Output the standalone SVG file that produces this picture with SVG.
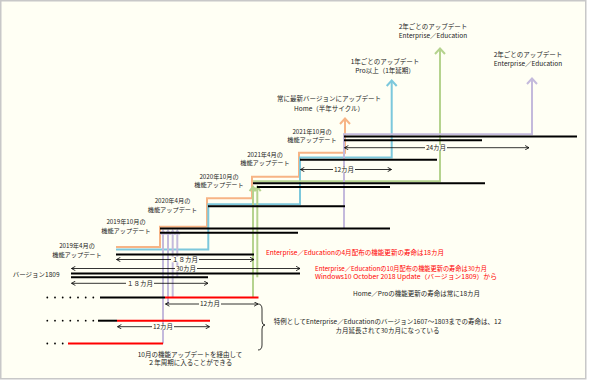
<svg xmlns="http://www.w3.org/2000/svg" width="589" height="381" viewBox="0 0 589 381">
<defs>
<marker id="ah" viewBox="0 0 5 5" markerWidth="5" markerHeight="5" refX="4.2" refY="2.5" orient="auto-start-reverse" markerUnits="userSpaceOnUse">
<path d="M0.3,0.3 L4.2,2.5 L0.3,4.7" fill="none" stroke="#000" stroke-width="0.8"/>
</marker>
<style>
text{font-family:"Noto Sans CJK JP","Noto Sans",sans-serif;font-size:6.5px;fill:#222;}
.m{text-anchor:middle;}
.rl{font-size:6.2px;}
.red{fill:#ff0000;font-size:6.4px;}
.bk{stroke:#000;stroke-width:2;fill:none;}
.rd{stroke:#ff0000;stroke-width:2;fill:none;}
.or{stroke:#f7b485;stroke-width:2;fill:none;}
.bl{stroke:#7cc8dc;stroke-width:2;fill:none;}
.gr{stroke:#b5d38e;stroke-width:2;fill:none;}
.pu{stroke:#c4badc;stroke-width:2;fill:none;}
.dim{stroke:#000;stroke-width:0.8;fill:none;marker-start:url(#ah);marker-end:url(#ah);}
.bg{fill:#fffff4;}
</style>
</defs>
<rect width="589" height="381" fill="#ffffff"/>
<rect x="0.75" y="0.75" width="585" height="378" fill="#fffff4" stroke="#c8c8c8" stroke-width="1.5"/>

<g id="connectors">
<!-- orange (Home) -->
<path class="or" d="M116,247 H160 V226.7 H207 V198.3 H252 V176.7 H299 V152.7 H345 V119"/>
<polyline class="or" points="340,124 345,118.5 350,124"/>
<!-- blue (Pro) -->
<path class="bl" d="M116,249.6 H208.3 V204.3 H300 V157.6 H391.7 V81"/>
<polyline class="bl" points="386.7,86 391.7,80.5 396.7,86"/>
<!-- green -->
<path class="gr" d="M253,181.2 H440 V49"/>
<polyline class="gr" points="435,54 440,48.5 445,54"/>
<line class="gr" x1="253" y1="187" x2="253" y2="297.5"/>
<line class="gr" x1="257.3" y1="187" x2="257.3" y2="277.3"/>
<polyline class="gr" points="249.6,191.2 253,186.6 256.4,191.2"/>
<polyline class="gr" points="253.9,191.2 257.3,186.6 260.7,191.2"/>
<!-- purple -->
<path class="pu" d="M344,228.5 V134.3 H532 V79"/>
<polyline class="pu" points="527,84 532,78.5 537,84"/>
<line class="pu" x1="163" y1="231" x2="163" y2="343.5"/>
<line class="pu" x1="168" y1="231" x2="168" y2="304"/>
<line class="pu" x1="172.7" y1="231" x2="172.7" y2="297.5"/>
<line class="pu" x1="177.3" y1="231" x2="177.3" y2="277.3"/>
<polyline class="pu" points="160.6,234.5 163,230.8 165.4,234.5"/>
<polyline class="pu" points="165.6,234.5 168,230.8 170.4,234.5"/>
<polyline class="pu" points="170.3,234.5 172.7,230.8 175.1,234.5"/>
<polyline class="pu" points="174.9,234.5 177.3,230.8 179.7,234.5"/>

<!-- support period bars -->
<line class="bk" x1="344" y1="136.6" x2="577" y2="136.6"/>
<line class="bk" x1="344" y1="140.2" x2="482" y2="140.2"/>
<line class="bk" x1="300" y1="159.8" x2="437" y2="159.8"/>
<line class="bk" x1="253" y1="183.3" x2="485" y2="183.3"/>
<line class="bk" x1="257" y1="187" x2="390" y2="187"/>
<line class="bk" x1="208" y1="206.3" x2="345" y2="206.3"/>
<line class="bk" x1="160" y1="228.5" x2="390" y2="228.5"/>
<line class="bk" x1="160" y1="232.8" x2="298" y2="232.8"/>
<line class="bk" x1="116" y1="254.5" x2="254" y2="254.5"/>
<line class="bk" x1="71" y1="273.5" x2="300" y2="273.5"/>
<line class="bk" x1="71" y1="277.3" x2="208" y2="277.3"/>
<line class="bk" x1="100" y1="297.5" x2="165" y2="297.5"/>
<line class="rd" x1="165" y1="297.5" x2="258.5" y2="297.5"/>
<line class="bk" x1="98" y1="320.7" x2="117" y2="320.7"/>
<line class="rd" x1="117" y1="320.7" x2="210" y2="320.7"/>
<line class="rd" x1="68" y1="343.5" x2="163" y2="343.5"/>

<!-- dots -->
<g fill="#000">
<circle cx="47.3" cy="297.5" r="0.9"/><circle cx="55" cy="297.5" r="0.9"/><circle cx="62.7" cy="297.5" r="0.9"/><circle cx="70.3" cy="297.5" r="0.9"/><circle cx="78" cy="297.5" r="0.9"/><circle cx="85.7" cy="297.5" r="0.9"/><circle cx="93.3" cy="297.5" r="0.9"/>
<circle cx="47.3" cy="320.7" r="0.9"/><circle cx="55" cy="320.7" r="0.9"/><circle cx="62.7" cy="320.7" r="0.9"/><circle cx="70.3" cy="320.7" r="0.9"/><circle cx="78" cy="320.7" r="0.9"/><circle cx="85.7" cy="320.7" r="0.9"/><circle cx="93.3" cy="320.7" r="0.9"/>
<circle cx="47.3" cy="343.5" r="0.9"/><circle cx="55" cy="343.5" r="0.9"/><circle cx="62.7" cy="343.5" r="0.9"/>
</g>

<!-- dimension arrows -->
<line class="dim" x1="344.5" y1="147.7" x2="529" y2="147.7"/>
<line class="dim" x1="300.5" y1="169.5" x2="391.5" y2="169.5"/>
<line class="dim" x1="116.5" y1="259.5" x2="254" y2="259.5"/>
<line class="dim" x1="71.5" y1="268.5" x2="300" y2="268.5"/>
<line class="dim" x1="71.5" y1="283.3" x2="208" y2="283.3"/>
<line class="dim" x1="165.5" y1="304" x2="258" y2="304"/>
<line class="dim" x1="117.5" y1="326.7" x2="209.5" y2="326.7"/>

<!-- brace -->
<path d="M258,304 Q262,304 262,309 L262,321 Q262,325 265,325 Q262,325 262,329 L262,345 Q262,350 258,350" fill="none" stroke="#000" stroke-width="0.8"/>
</g>

<g id="dim-labels">
<rect class="bg" x="425" y="145" width="22" height="5.5"/><text class="m" x="436" y="150">24カ月</text>
<rect class="bg" x="333" y="166.8" width="22" height="5.5"/><text class="m" x="344" y="171.8">12カ月</text>
<rect class="bg" x="171" y="256.8" width="28" height="5.5"/><text class="m" x="185" y="261.8">１８カ月</text>
<rect class="bg" x="175" y="265.8" width="22" height="5.5"/><text class="m" x="186" y="270.8">30カ月</text>
<rect class="bg" x="126" y="280.6" width="28" height="5.5"/><text class="m" x="140" y="285.6">１８カ月</text>
<rect class="bg" x="199" y="301.3" width="22" height="5.5"/><text class="m" x="210" y="306.3">12カ月</text>
<rect class="bg" x="152" y="324" width="22" height="5.5"/><text class="m" x="163" y="329">12カ月</text>
</g>

<g id="top-labels">
<g id="n-ent2y-a"><text class="m" x="433" y="29">2年ごとのアップデート</text><text class="m" x="433" y="38.2">Enterprise／Education</text></g>
<g id="n-pro1y"><text class="m" x="385" y="63.8">1年ごとのアップデート</text><text class="m" x="385" y="73">Pro以上（1年延期）</text></g>
<g id="n-home"><text class="m" x="329" y="101.4">常に最新バージョンにアップデート</text><text class="m" x="329" y="110.6">Home（半年サイクル）</text></g>
<g id="n-ent2y-b"><text class="m" x="528" y="57">2年ごとのアップデート</text><text class="m" x="528" y="66">Enterprise／Education</text></g>
</g>

<g id="release-labels">
<g id="r-2110"><text class="m rl" x="312" y="133.6">2021年10月の</text><text class="m rl" x="312" y="141.8">機能アップデート</text></g>
<g id="r-2104"><text class="m rl" x="265" y="156.9">2021年4月の</text><text class="m rl" x="265" y="165.1">機能アップデート</text></g>
<g id="r-2010"><text class="m rl" x="219" y="178.6">2020年10月の</text><text class="m rl" x="219" y="186.8">機能アップデート</text></g>
<g id="r-2004"><text class="m rl" x="172.5" y="203.4">2020年4月の</text><text class="m rl" x="172.5" y="211.6">機能アップデート</text></g>
<g id="r-1910"><text class="m rl" x="126" y="224.4">2019年10月の</text><text class="m rl" x="126" y="232.6">機能アップデート</text></g>
<g id="r-1904"><text class="m rl" x="77" y="248.4">2019年4月の</text><text class="m rl" x="77" y="256.6">機能アップデート</text></g>
<g id="v1809"><text x="12.7" y="276.6">バージョン1809</text></g>
</g>

<g id="notes">
<text class="red" x="266" y="255.3" textLength="178" lengthAdjust="spacingAndGlyphs">Enterprise／Educationの4月配布の機能更新の寿命は18カ月</text>
<text class="red" x="315" y="271" textLength="172" lengthAdjust="spacingAndGlyphs">Enterprise／Educationの10月配布の機能更新の寿命は30カ月</text>
<text class="red" x="315" y="279.4" textLength="182" lengthAdjust="spacingAndGlyphs">Windows10 October 2018 Update（バージョン1809）から</text>
<text x="353" y="296">Home／Proの機能更新の寿命は常に18カ月</text>
<text class="m" x="387.5" y="324">特例としてEnterprise／Educationのバージョン1607～1803までの寿命は、12</text>
<text class="m" x="387.5" y="332.5">カ月延長されて30カ月になっている</text>
<text class="m" x="190" y="356.5">10月の機能アップデートを経由して</text>
<text class="m" x="190" y="365">２年周期に入ることができる</text>
</g>
</svg>
